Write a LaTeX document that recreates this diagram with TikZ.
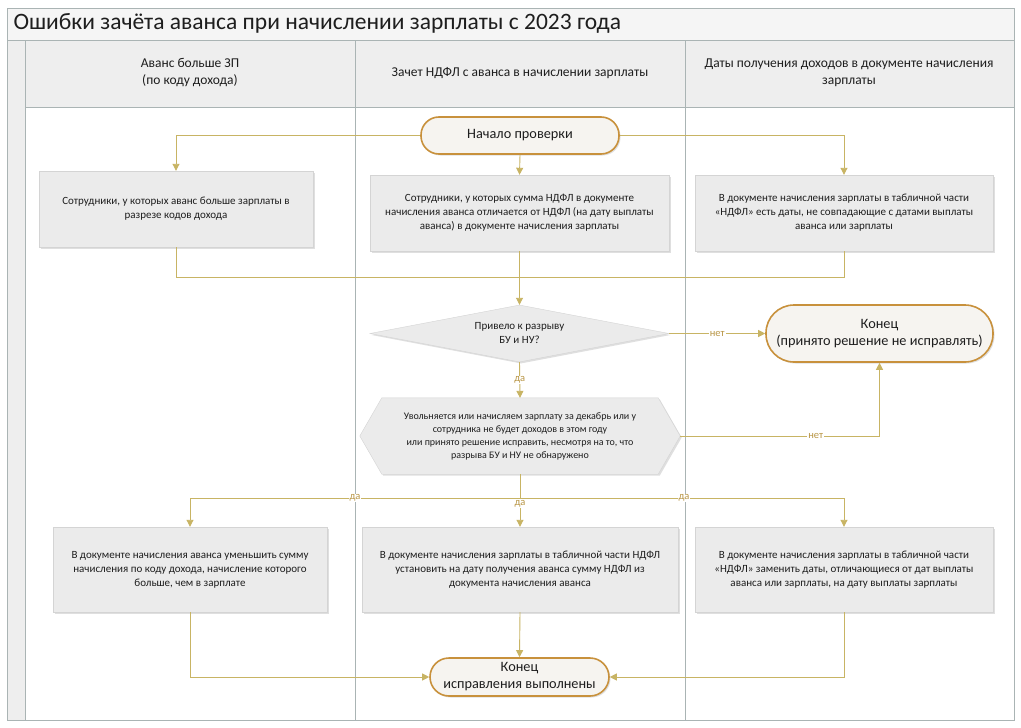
\documentclass[tikz,border=0pt]{standalone}
\usepackage{fontspec}
\setmainfont{Carlito}
\usetikzlibrary{arrows.meta,shapes.geometric,shadows,backgrounds}
\definecolor{conn}{RGB}{200,180,100}
\definecolor{lbl}{RGB}{185,150,70}
\definecolor{term}{RGB}{200,145,60}
\definecolor{termfill}{RGB}{246,244,240}
\definecolor{boxfill}{RGB}{235,235,235}
\definecolor{boxline}{RGB}{212,212,212}
\definecolor{lane}{RGB}{170,180,180}
\definecolor{headfill}{RGB}{238,238,238}
\definecolor{txt}{RGB}{30,30,30}
\begin{document}
\begin{tikzpicture}[x=1pt,y=-1pt,
  shd/.style={drop shadow={opacity=0.25,shadow xshift=1.5pt,shadow yshift=-1.5pt}},
  procbox/.style={draw=boxline, fill=boxfill, shd, align=center, text=txt,
    font=\fontsize{11}{14}\selectfont, inner sep=2pt},
  terminal/.style={draw=term, line width=1.6pt, fill=termfill, shd, align=center, text=txt,
    font=\fontsize{14.3}{17}\selectfont, inner sep=2pt},
  ln/.style={draw=conn, line width=0.9pt},
  arr/.style={ln, -{Triangle[length=7pt,width=7pt]}},
  lab/.style={fill=white, text=lbl, font=\fontsize{10.5}{12}\selectfont, inner sep=1pt},
  headtxt/.style={align=center, text=txt, font=\fontsize{13.5}{17}\selectfont}
]
\useasboundingbox (0,0) rectangle (1021,728);
% frame and lanes (background layer)
\begin{scope}[on background layer]
\fill[white] (7,8) rectangle (1014,720);
\draw[lane, fill=headfill!60] (7,8) rectangle (1014,40);
\draw[lane, fill=headfill] (7,40) rectangle (25,720);
\draw[lane, fill=headfill] (25,40) rectangle (1014,107);
\draw[lane] (7,8) rectangle (1014,720);
\draw[lane] (355,40) -- (355,720);
\draw[lane] (685,40) -- (685,720);
\end{scope}
\node[anchor=west, text=txt, font=\fontsize{23.5}{27}\selectfont] (title) at (10,23) {Ошибки зачёта аванса при начислении зарплаты с 2023 года};
\node[headtxt] (h1) at (190,73) {Аванс больше ЗП\\(по коду дохода)};
\node[headtxt] (h2) at (520,73) {Зачет НДФЛ с аванса в начислении зарплаты};
\node[headtxt] (h3) at (849,73) {Даты получения доходов в документе начисления\\зарплаты};
% nodes
\node[terminal, rounded corners=18pt, minimum width=198pt, minimum height=37pt] (start) at (520,135.5) {Начало проверки};
\node[procbox, minimum width=274pt, minimum height=76pt] (A1) at (176,209) {Сотрудники, у которых аванс больше зарплаты в\\разрезе кодов дохода};
\node[procbox, minimum width=299pt, minimum height=76pt] (B1) at (519.5,213) {Сотрудники, у которых сумма НДФЛ в документе\\начисления аванса отличается от НДФЛ (на дату выплаты\\аванса) в документе начисления зарплаты};
\node[procbox, minimum width=298pt, minimum height=76pt] (C1) at (844,213) {В документе начисления зарплаты в табличной части\\«НДФЛ» есть даты, не совпадающие с датами выплаты\\аванса или зарплаты};
\node[procbox, diamond, aspect=5, inner sep=0pt, minimum width=299pt, minimum height=57pt] (dia) at (519.5,333.5) {Привело к разрыву\\БУ и НУ?};
\node[terminal, rounded corners=28pt, minimum width=227pt, minimum height=57pt] (end1) at (879.5,333.5) {Конец\\(принято решение не исправлять)};
\node[align=center, text=txt, font=\fontsize{10}{13}\selectfont, minimum width=320pt, minimum height=76pt, inner sep=0pt] (hex) at (520,436) {Увольняется или начисляем зарплату за декабрь или у\\сотрудника не будет доходов в этом году\\или принято решение исправить, несмотря на то, что\\разрыва БУ и НУ не обнаружено};
\begin{scope}[on background layer]
\path[draw=boxline, fill=boxfill, shd] (hex.west) -- ([xshift=22pt]hex.north west) -- ([xshift=-22pt]hex.north east) -- (hex.east) -- ([xshift=-22pt]hex.south east) -- ([xshift=22pt]hex.south west) -- cycle;
\end{scope}
\node[procbox, minimum width=274pt, minimum height=85pt] (A2) at (190,569.5) {В документе начисления аванса уменьшить сумму\\начисления по коду дохода, начисление которого\\больше, чем в зарплате};
\node[procbox, minimum width=316pt, minimum height=85pt] (B2) at (520,569.5) {В документе начисления зарплаты в табличной части НДФЛ\\установить на дату получения аванса сумму НДФЛ из\\документа начисления аванса};
\node[procbox, minimum width=298pt, minimum height=85pt] (C2) at (844,569.5) {В документе начисления зарплаты в табличной части\\«НДФЛ» заменить даты, отличающиеся от дат выплаты\\аванса или зарплаты, на дату выплаты зарплаты};
\node[terminal, rounded corners=19pt, minimum width=179pt, minimum height=38pt] (end2) at (519.5,677) {Конец\\исправления выполнены};
% connectors
\coordinate (j1) at (519.5,277);
\coordinate (j2) at (520,498);
\draw[arr] (start.west) -| (A1.north);
\draw[arr] (start.east) -| (C1.north);
\draw[arr] (start.south) -- (B1.north);
\draw[ln] (A1.south) |- (j1);
\draw[ln] (C1.south) |- (j1);
\draw[arr] (B1.south) -- (dia.north);
\draw[arr] (dia.east) -- node[lab]{нет} (end1.west);
\draw[arr] (dia.south) -- node[lab]{да} (hex.north);
\draw[arr] (hex.east) -| node[lab, pos=0.34]{нет} (end1.south);
\draw[ln] (hex.south) -- (j2);
\draw[arr] (j2) -| node[lab, pos=0.25]{да} (A2.north);
\draw[arr] (j2) -- node[lab, pos=0.2]{да} (B2.north);
\draw[arr] (j2) -| node[lab, pos=0.253]{да} (C2.north);
\draw[arr] (A2.south) |- (end2.west);
\draw[arr] (C2.south) |- (end2.east);
\draw[arr] (B2.south) -- (end2.north);
\end{tikzpicture}
\end{document}
